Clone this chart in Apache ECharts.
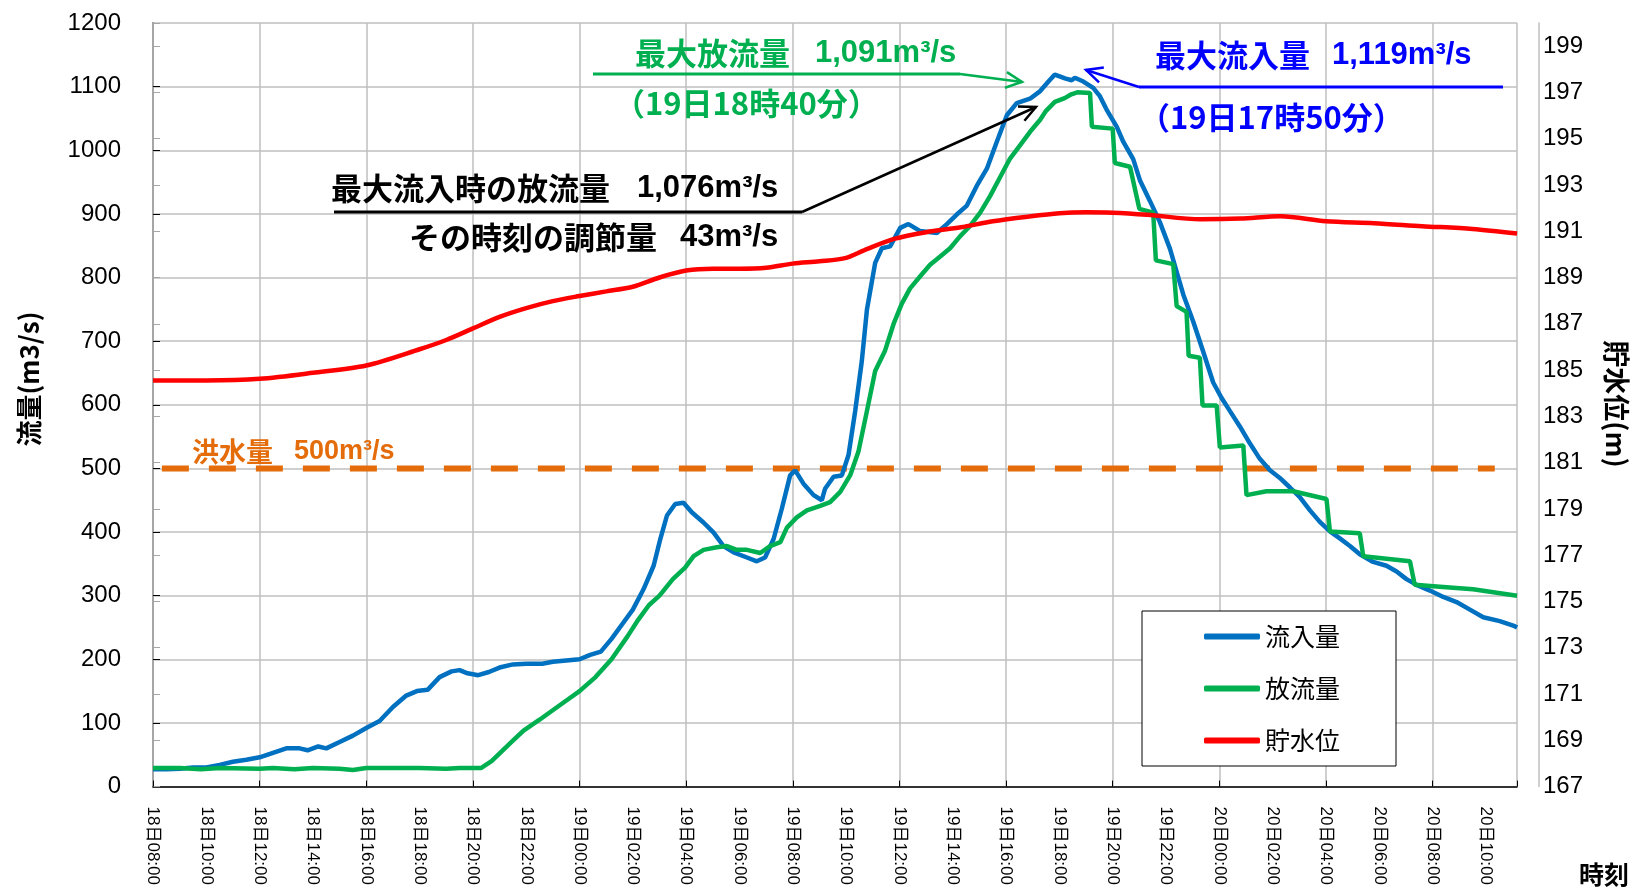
<!DOCTYPE html>
<html>
<head>
<meta charset="utf-8">
<script src="https://cdn.jsdelivr.net/npm/echarts@6/dist/echarts.min.js"></script>
<style>
  html, body { margin: 0; padding: 0; background: #fff; }
  #chart { width: 1637px; height: 888px; }
</style>
</head>
<body>
<div id="chart"></div>
<script>
// time is kept as hours elapsed since 18日08:00
const startDay = 18
const startHour = 8
const endH = 51 + 10 / 60

const inflowH = [0, 0.5, 1, 1.5, 2, 2.5, 3, 3.5, 4, 4.5, 5, 5.5, 5.8, 6.2, 6.5, 7, 7.5, 8, 8.5, 9, 9.5, 9.9, 10.3, 10.75, 11.2, 11.5, 11.8, 12.2, 12.6, 13, 13.5, 14, 14.6, 15, 15.5, 16, 16.4, 16.8, 17.2, 17.6, 18, 18.4, 18.78, 19.03, 19.28, 19.59, 19.9, 20.21, 20.65, 21.03, 21.4, 21.78, 22.28, 22.65, 22.96, 23.28, 23.59, 23.9, 24.09, 24.4, 24.78, 25.09, 25.21, 25.53, 25.84, 26.09, 26.34, 26.59, 26.78, 27.09, 27.34, 27.65, 28.03, 28.34, 28.78, 29.4, 29.78, 30.15, 30.53, 30.9, 31.28, 31.65, 32.03, 32.4, 32.9, 33.28, 33.59, 33.83, 34.21, 34.46, 34.58, 34.9, 35.27, 35.52, 35.77, 36.15, 36.4, 36.77, 37.02, 37.4, 37.77, 38.15, 38.4, 38.65, 39.02, 39.4, 39.77, 40.08, 40.4, 40.77, 41.15, 41.52, 41.9, 42.27, 42.65, 43.02, 43.4, 43.77, 44.15, 44.52, 44.9, 45.27, 45.77, 46.27, 46.65, 47.02, 47.4, 47.9, 48.4, 48.9, 49.4, 49.9, 50.52, 51.08, 51.17]
const inflowQ = [27, 27, 28, 30, 30, 34, 39, 42, 46, 53, 60, 60, 57, 63, 60, 70, 80, 92, 103, 125, 143, 150, 152, 172, 181, 183, 178, 175, 180, 187, 192, 193, 193, 196, 198, 200, 207, 212, 232, 255, 278, 310, 347, 389, 426, 444, 446, 431, 415, 399, 378, 368, 360, 354, 360, 389, 437, 489, 497, 476, 458, 450, 468, 487, 489, 521, 590, 669, 749, 823, 846, 849, 878, 884, 873, 870, 884, 899, 913, 944, 971, 1013, 1055, 1074, 1081, 1093, 1108, 1119, 1113, 1110, 1114, 1108, 1098, 1085, 1064, 1037, 1013, 986, 953, 920, 887, 845, 809, 773, 731, 683, 635, 611, 590, 566, 539, 515, 497, 485, 470, 455, 434, 416, 401, 390, 378, 365, 353, 347, 338, 326, 317, 308, 298, 290, 278, 266, 260, 252, 250]

const outflowH = [0, 1, 1.8, 2.5, 4, 4.5, 5.3, 6, 7, 7.5, 8, 9, 10, 11, 11.5, 12.3, 12.7, 13.1, 13.5, 13.9, 14.5, 15.1, 15.6, 16, 16.6, 17.2, 17.8, 18.2, 18.6, 19, 19.5, 19.96, 20.28, 20.65, 21.15, 21.53, 21.9, 22.28, 22.78, 23.15, 23.53, 23.78, 24.15, 24.53, 25.03, 25.4, 25.78, 26.15, 26.46, 26.78, 27.09, 27.46, 27.78, 28.09, 28.4, 28.78, 29.15, 29.53, 29.9, 30.28, 30.65, 31.03, 31.4, 31.78, 32.15, 32.53, 32.9, 33.28, 33.5, 33.83, 34.2, 34.45, 34.67, 35.15, 35.22, 36, 36.08, 36.65, 37, 37.52, 37.62, 38.27, 38.4, 38.77, 38.85, 39.27, 39.37, 39.9, 40.02, 40.9, 41.02, 41.77, 42.77, 44.02, 44.15, 45.27, 45.4, 47.15, 47.33, 48.27, 49.52, 51.17]
const outflowQ = [29, 29, 27, 29, 28, 29, 27, 29, 28, 26, 29, 29, 29, 28, 29, 29, 40, 56, 72, 88, 105, 123, 138, 150, 172, 200, 236, 262, 285, 300, 326, 344, 362, 372, 376, 378, 372, 372, 367, 378, 384, 407, 423, 434, 441, 447, 463, 489, 526, 590, 653, 685, 727, 759, 783, 802, 820, 833, 846, 865, 881, 902, 928, 958, 987, 1008, 1029, 1048, 1062, 1076, 1082, 1088, 1091, 1090, 1037, 1034, 980, 974, 908, 902, 827, 821, 755, 746, 677, 674, 599, 599, 533, 536, 458, 464, 464, 452, 401, 398, 362, 354, 317, 314, 310, 300]

const levelH = [0, 2, 4, 6, 8, 10, 11, 12, 13, 14, 15, 16, 17, 18, 19, 20, 21, 22, 23, 24, 25, 26, 26.8, 27.8, 29, 30.3, 31.5, 32.8, 34, 35, 36, 37.3, 39.3, 40.8, 42.3, 44, 45.8, 47.6, 49.5, 51.17]
const levelM = [184.55, 184.55, 184.62, 184.88, 185.2, 185.9, 186.3, 186.8, 187.3, 187.68, 187.98, 188.2, 188.4, 188.6, 189.0, 189.3, 189.38, 189.38, 189.42, 189.6, 189.7, 189.85, 190.24, 190.67, 190.96, 191.17, 191.43, 191.63, 191.78, 191.82, 191.8, 191.71, 191.52, 191.55, 191.65, 191.43, 191.35, 191.22, 191.1, 190.9]

const floodH = [20 / 60, 50 + 20 / 60]
const floodQ = 500

const fmtTime = h => {
  const total = Math.round((startHour + h) * 60)
  const day = startDay + Math.floor(total / 1440)
  const m = total % 1440
  return day + '日' + String(Math.floor(m / 60)).padStart(2, '0') + ':' + String(m % 60).padStart(2, '0')
}

const zip = (xs, ys) => xs.map((x, i) => [x, Array.isArray(ys) ? ys[i] : ys])

const NUM = '"Liberation Sans", "Noto Sans CJK JP", sans-serif'
const JP = '"Noto Sans CJK JP", "Liberation Sans", sans-serif'
const GRID = '#BFBFBF'

const txt = (text, x, y, font, color, extra) => Object.assign({
  type: 'text', x: x, y: y, z: 100,
  style: { text: text, fill: color, font: font, align: 'left', verticalAlign: 'middle' },
}, extra || {})

const vtxt = (text, x, y, font, rot) => ({
  type: 'text', x: x, y: y, z: 100, rotation: rot,
  style: { text: text, fill: '#000', font: font, align: 'center', verticalAlign: 'middle' },
})

const arrow = (x1, y1, x2, y2, color) => {
  const a = Math.atan2(y2 - y1, x2 - x1)
  const len = 18, sp = 0.45
  return [
    { type: 'line', z: 100, shape: { x1: x1, y1: y1, x2: x2, y2: y2 }, style: { stroke: color, lineWidth: 2.5 } },
    { type: 'polyline', z: 100, shape: { points: [
      [x2 - len * Math.cos(a - sp), y2 - len * Math.sin(a - sp)],
      [x2, y2],
      [x2 - len * Math.cos(a + sp), y2 - len * Math.sin(a + sp)],
    ] }, style: { stroke: color, lineWidth: 2.5, fill: 'none' } },
  ]
}
const hline = (x1, x2, y, color) => ({ type: 'line', z: 100, shape: { x1: x1, y1: y, x2: x2, y2: y }, style: { stroke: color, lineWidth: 3 } })

const GREEN = '#00B050', BLUE = '#0000FF', ORANGE = '#E46C0A'
const ANN_JP = 'bold 31px ' + JP
const ANN_NUM = 'bold 31px ' + NUM

const chart = echarts.init(document.getElementById('chart'))
const option = {
  animation: false,
  backgroundColor: '#fff',
  grid: { left: 153, right: 120, top: 23, bottom: 100 },
  legend: {
    data: ['流入量', '放流量', '貯水位'],
    orient: 'vertical',
    left: 1142, top: 611,
    padding: [13, 56, 13, 62],
    itemWidth: 56, itemHeight: 6, itemGap: 27, itemTextGap: 6,
    icon: 'roundRect',
    borderColor: '#000', borderWidth: 1, backgroundColor: '#fff',
    textStyle: { fontSize: 25, fontFamily: JP, color: '#000' },
  },
  xAxis: [
    {
      type: 'value', min: 0, max: endH, interval: 2,
      axisLine: { lineStyle: { color: '#000', width: 1.5 } },
      axisTick: { show: false },
      splitLine: { show: false },
      axisLabel: {
        rotate: -90, margin: 20, fontSize: 17, fontFamily: NUM, color: '#000',
        formatter: v => (Math.abs(v / 2 - Math.round(v / 2)) < 1e-6 ? fmtTime(v) : ''),
      },
    },
    {
      type: 'value', min: 0, max: endH, interval: 4, position: 'bottom',
      axisLine: { show: false },
      axisLabel: { show: false },
      axisTick: { show: true, inside: true, length: 6, lineStyle: { color: '#000' } },
      splitLine: { show: true, lineStyle: { color: GRID, width: 1.5 } },
    },
  ],
  yAxis: [
    {
      type: 'value', min: 0, max: 1200, interval: 100,
      axisLine: { show: true, lineStyle: { color: '#000', width: 1.5 } },
      axisTick: { show: true, inside: true, length: 7, lineStyle: { color: '#000' } },
      axisLabel: { fontSize: 24, fontFamily: NUM, color: '#000', margin: 32, formatter: v => String(v) },
      splitLine: { show: true, lineStyle: { color: GRID, width: 1.5 } },
    },
    {
      type: 'value', min: 167, max: 200, interval: 2, position: 'right',
      axisLine: { show: true, lineStyle: { color: '#A6A6A6', width: 2 } },
      axisTick: { show: true, length: 7, lineStyle: { color: '#A6A6A6' } },
      axisLabel: { show: false },
      splitLine: { show: false },
    },
    {
      type: 'value', min: 167, max: 200, interval: 2, position: 'right', offset: 22,
      axisLine: { show: true, lineStyle: { color: '#BFBFBF', width: 1.5 } },
      axisTick: { show: false },
      axisLabel: { fontSize: 24, fontFamily: NUM, color: '#000', margin: 4,
        formatter: v => (v % 2 === 1 ? String(v) : '') },
      splitLine: { show: false },
    },
  ],
  series: [
    {
      name: '洪水量', type: 'line', xAxisIndex: 0, yAxisIndex: 0, z: 1,
      data: zip(floodH, floodQ), showSymbol: false, silent: true,
      lineStyle: { color: ORANGE, width: 6, type: [27, 20], cap: 'butt' },
    },
    {
      name: '流入量', type: 'line', xAxisIndex: 0, yAxisIndex: 0, z: 3,
      data: zip(inflowH, inflowQ), showSymbol: false, color: '#0070C0',
      lineStyle: { color: '#0070C0', width: 4.5 },
    },
    {
      name: '放流量', type: 'line', xAxisIndex: 0, yAxisIndex: 0, z: 4,
      data: zip(outflowH, outflowQ), showSymbol: false, color: GREEN,
      lineStyle: { color: GREEN, width: 4.5 },
    },
    {
      name: '貯水位', type: 'line', xAxisIndex: 0, yAxisIndex: 1, z: 5,
      data: zip(levelH, levelM), showSymbol: false, smooth: 0.3, color: '#FF0000',
      lineStyle: { color: '#FF0000', width: 4.5 },
    },
  ],
  graphic: [
    // axis names
    vtxt('流量(m3/s)', 29, 379, 'bold 26px ' + JP, Math.PI / 2),
    vtxt('貯水位(m)', 1616, 404, 'bold 27px ' + JP, -Math.PI / 2),
    txt('時刻', 1579, 874, 'bold 25px ' + JP, '#000'),
    // flood discharge
    txt('洪水量', 192, 452, 'bold 27px ' + JP, ORANGE),
    txt('500m³/s', 294, 452, 'bold 27px ' + NUM, ORANGE),
    // max outflow
    txt('最大放流量', 635, 53, ANN_JP, GREEN),
    txt('1,091m³/s', 815, 53, ANN_NUM, GREEN),
    txt('（19日18時40分）', 614, 103, ANN_JP, GREEN),
    hline(593, 960, 74, GREEN),
    ...arrow(960, 74, 1022, 82, GREEN),
    // max inflow
    txt('最大流入量', 1155, 55, ANN_JP, BLUE),
    txt('1,119m³/s', 1332, 55, ANN_NUM, BLUE),
    txt('（19日17時50分）', 1139, 117, ANN_JP, BLUE),
    hline(1139, 1503, 87, BLUE),
    ...arrow(1139, 87, 1086, 70, BLUE),
    // outflow at peak inflow
    txt('最大流入時の放流量', 331, 188, ANN_JP, '#000'),
    txt('1,076m³/s', 637, 188, ANN_NUM, '#000'),
    txt('その時刻の調節量', 409, 237, ANN_JP, '#000'),
    txt('43m³/s', 680, 237, ANN_NUM, '#000'),
    hline(334, 802, 212, '#000'),
    ...arrow(802, 212, 1036, 107, '#000'),
  ],
}
chart.setOption(option)
</script>
</body>
</html>
